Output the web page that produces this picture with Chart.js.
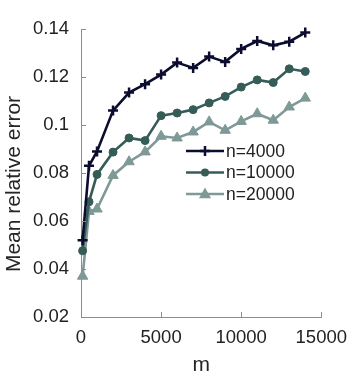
<!DOCTYPE html>
<html>
<head>
<meta charset="utf-8">
<script src="https://cdn.jsdelivr.net/npm/chart.js@4/dist/chart.umd.min.js"></script>
<style>
  html, body { margin: 0; padding: 0; background: #fff; }
  #wrap { width: 357px; height: 375px; }
</style>
</head>
<body>
<div id="wrap"><canvas id="myChart" width="357" height="375"></canvas></div>
<script>
// data
const mValues = [100, 500, 1000, 2000, 3000, 4000, 5000, 6000, 7000, 8000, 9000, 10000, 11000, 12000, 13000, 14000];
const n4000 = [0.052, 0.083, 0.089, 0.106, 0.1135, 0.117, 0.121, 0.126, 0.1238, 0.1285, 0.1263, 0.1317, 0.135, 0.1332, 0.1347, 0.1385];
const n10000 = [0.0476, 0.068, 0.0794, 0.0887, 0.0946, 0.0935, 0.1039, 0.105, 0.1064, 0.1092, 0.1119, 0.1158, 0.1188, 0.1177, 0.1234, 0.1223];
const n20000 = [0.037, 0.064, 0.065, 0.079, 0.0847, 0.0888, 0.0953, 0.0946, 0.0971, 0.1013, 0.0978, 0.1015, 0.1047, 0.102, 0.1075, 0.1112];
const seriesNames = ["n=4000", "n=10000", "n=20000"];
const xTicks = [0, 5000, 10000, 15000];
const yTicks = [0.02, 0.04, 0.06, 0.08, 0.1, 0.12, 0.14];
const yTickLabels = ["0.02", "0.04", "0.06", "0.08", "0.1", "0.12", "0.14"];

const colors = ["#0c0c2e", "#365c57", "#7f9997"];
const styles = ["cross", "circle", "triangle"];
const radii = [5, 4, 6];
const axisColor = "#8c8c8c";
const FONT = "'Liberation Sans', Arial, Helvetica, sans-serif";

const toPts = (arr) => arr.map((v, i) => ({ x: mValues[i], y: v }));

// inward ticks, y title and legend drawn on the canvas
const extras = {
  id: "extras",
  afterDraw(chart) {
    const ctx = chart.ctx;
    const xs = chart.scales.x, ys = chart.scales.y;
    const ca = chart.chartArea;
    ctx.save();
    ctx.strokeStyle = axisColor;
    ctx.lineWidth = 1;
    ctx.beginPath();
    xTicks.forEach((t) => {
      const px = Math.round(xs.getPixelForValue(t)) + 0.5;
      ctx.moveTo(px, ca.bottom);
      ctx.lineTo(px, ca.bottom - 5);
    });
    yTicks.forEach((t) => {
      const py = Math.round(ys.getPixelForValue(t)) + 0.5;
      ctx.moveTo(ca.left, py);
      ctx.lineTo(ca.left + 5, py);
    });
    ctx.stroke();

    // y title
    ctx.fillStyle = "#262626";
    ctx.font = "21px " + FONT;
    ctx.textAlign = "center";
    ctx.textBaseline = "middle";
    ctx.translate(14, 184);
    ctx.rotate(-Math.PI / 2);
    ctx.fillText("Mean relative error", 0, 0);
    ctx.restore();

    // legend
    ctx.save();
    const rowsY = [151, 172.5, 194];
    chart.data.datasets.forEach((ds, i) => {
      const y = rowsY[i];
      ctx.strokeStyle = ds.borderColor;
      ctx.fillStyle = ds.borderColor;
      ctx.lineWidth = ds.borderWidth;
      ctx.beginPath();
      ctx.moveTo(186, y);
      ctx.lineTo(224, y);
      ctx.stroke();
      const cx = 205, r = ds.pointRadius;
      ctx.beginPath();
      if (ds.pointStyle === "cross") {
        ctx.lineWidth = 2.5;
        ctx.moveTo(cx, y - r); ctx.lineTo(cx, y + r);
        ctx.moveTo(cx - r, y); ctx.lineTo(cx + r, y);
        ctx.stroke();
      } else if (ds.pointStyle === "circle") {
        ctx.arc(cx, y, r, 0, Math.PI * 2);
        ctx.fill();
      } else {
        ctx.moveTo(cx, y - r * 1.1);
        ctx.lineTo(cx + r, y + r * 0.7);
        ctx.lineTo(cx - r, y + r * 0.7);
        ctx.closePath();
        ctx.fill();
      }
      ctx.fillStyle = "#222";
      ctx.font = "17.5px " + FONT;
      ctx.textAlign = "left";
      ctx.textBaseline = "middle";
      ctx.fillText(ds.label, 226, y + 1);
    });
    ctx.restore();
  },
};

const ctx = document.getElementById("myChart").getContext("2d");
const myChart = new Chart(ctx, {
  type: "line",
  data: {
    datasets: [n4000, n10000, n20000].map((arr, i) => ({
      label: seriesNames[i],
      data: toPts(arr),
      borderColor: colors[i],
      backgroundColor: colors[i],
      pointBackgroundColor: colors[i],
      pointBorderColor: colors[i],
      pointStyle: styles[i],
      pointRadius: radii[i],
      pointBorderWidth: i === 0 ? 2.5 : 1,
      borderWidth: 2.6,
      tension: 0,
      clip: false,
    })),
  },
  options: {
    responsive: false,
    animation: false,
    layout: { padding: { left: 0, right: 34, top: 29, bottom: 0 } },
    plugins: { legend: { display: false }, tooltip: { enabled: false } },
    scales: {
      x: {
        type: "linear",
        min: 0,
        max: 15000,
        afterFit: (s) => { s.height = 58; },
        afterBuildTicks: (s) => { s.ticks = xTicks.map((v) => ({ value: v })); },
        grid: { display: false, drawTicks: false },
        border: { display: true, color: axisColor, width: 1 },
        ticks: {
          padding: 10,
          color: "#222",
          font: { family: FONT, size: 18.5 },
          callback: (v) => String(v),
        },
        title: {
          display: true,
          text: "m",
          color: "#262626",
          font: { family: FONT, size: 21 },
          padding: { top: 0, bottom: -3 },
        },
      },
      y: {
        type: "linear",
        min: 0.02,
        max: 0.14,
        afterFit: (s) => { s.width = 81; },
        afterBuildTicks: (s) => { s.ticks = yTicks.map((v) => ({ value: v })); },
        grid: { display: false, drawTicks: false },
        border: { display: true, color: axisColor, width: 1 },
        ticks: {
          padding: 12,
          color: "#222",
          font: { family: FONT, size: 18.5 },
          callback: (v) => yTickLabels[yTicks.indexOf(v)] ?? String(v),
        },
      },
    },
  },
  plugins: [extras],
});
</script>
</body>
</html>
